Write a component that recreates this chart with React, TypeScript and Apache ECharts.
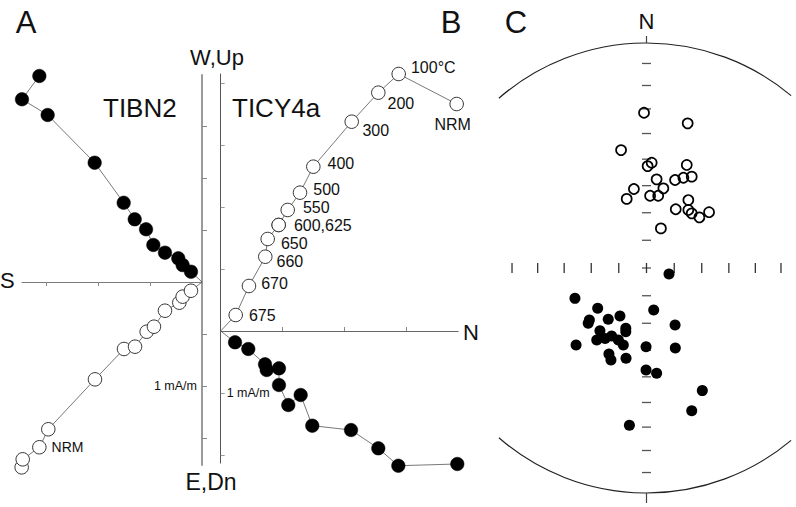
import React, { useEffect, useRef } from "react";
import * as echarts from "echarts";

// ---------- Panel A: TIBN2 orthogonal projection (mA/m) ----------
const aFilled: [number, number][] = [
  [-1.564, 1.981], [-1.731, 1.757], [-1.484, 1.606], [-1.032, 1.147],
  [-0.753, 0.762], [-0.647, 0.603], [-0.538, 0.507], [-0.468, 0.356],
  [-0.356, 0.282], [-0.228, 0.228], [-0.186, 0.163], [-0.106, 0.099],
];
const aOpen: [number, number][] = [
  [-1.734, -1.782], [-1.724, -1.705], [-1.564, -1.589], [-1.478, -1.416],
  [-1.029, -0.936], [-0.75, -0.644], [-0.644, -0.622], [-0.532, -0.478],
  [-0.462, -0.43], [-0.356, -0.276], [-0.218, -0.199], [-0.186, -0.141],
  [-0.106, -0.084],
];
const aOpenLabels = ["", "", "NRM", "", "", "", "", "", "", "", "", "", ""];
const aXTicks = [-1.5, -1, -0.5];
const aYTicks = [-1.5, -1, -0.5, 0.5, 1, 1.5];

// ---------- Panel B: TICY4a ----------
const bSteps = ["NRM", "100°C", "200", "300", "400", "500", "550", "600,625", "", "650", "660", "670", "675"];
const bOpen: [number, number][] = [
  [3.806, 3.661], [2.871, 4.145], [2.542, 3.844], [2.113, 3.376], [1.494, 2.65],
  [1.279, 2.231], [1.081, 1.952], [0.935, 1.71], [0.935, 1.71], [0.758, 1.484],
  [0.719, 1.198], [0.456, 0.726], [0.242, 0.258],
];
const bFilled: [number, number][] = [
  [3.816, -2.145], [2.865, -2.173], [2.542, -1.892], [2.102, -1.597], [1.477, -1.527],
  [1.29, -1.032], [1.09, -1.194], [0.94, -0.871], [0.94, -0.602], [0.742, -0.629],
  [0.715, -0.537], [0.445, -0.29], [0.231, -0.182],
];
const bXTicks = [1, 2, 3];
const bYTicks = [-2, -1, 1, 2, 3, 4];

// ---------- Panel C: equal-area net (projected, unit radius) ----------
const cUpper: [number, number][] = [
  [-0.011, 0.69], [0.183, 0.643], [-0.113, 0.524], [0.023, 0.468], [0.005, 0.453],
  [0.179, 0.458], [0.045, 0.394], [0.127, 0.391], [0.164, 0.401], [0.201, 0.406],
  [-0.056, 0.351], [0.075, 0.354], [-0.088, 0.307], [0.016, 0.321], [0.052, 0.321],
  [0.186, 0.302], [0.13, 0.261], [0.186, 0.258], [0.201, 0.243], [0.235, 0.225],
  [0.278, 0.248], [0.064, 0.176],
];
const cLower: [number, number][] = [
  [0.1, -0.027], [-0.318, -0.135], [-0.217, -0.179], [0.032, -0.187], [-0.118, -0.213],
  [-0.17, -0.228], [-0.254, -0.231], [-0.259, -0.246], [0.127, -0.253], [-0.092, -0.268],
  [-0.092, -0.283], [-0.207, -0.279], [-0.221, -0.32], [-0.155, -0.302], [-0.184, -0.313],
  [-0.125, -0.32], [-0.103, -0.342], [-0.313, -0.342], [-0.002, -0.35], [0.128, -0.356],
  [-0.167, -0.382], [-0.158, -0.409], [-0.091, -0.401], [-0.002, -0.453], [0.045, -0.468],
  [0.248, -0.545], [0.201, -0.634], [-0.076, -0.699],
];
const netVertIncl = [80, 70, 60, 50, 40, 30, 20, 10];
const netHorizIncl = [80, 70, 60, 50, 40];

// ---------- layout ----------
const FONT = "'Liberation Sans', Arial, Helvetica, sans-serif";
const A = { ox: 202, oy: 282, s: 104, xMin: -1.73, xMax: 0, yMin: -1.76, yMax: 1.99 };
const B = { ox: 220.7, oy: 331, s: 62, xMin: 0, xMax: 3.83, yMin: -2.13, yMax: 4.145 };
const C = { ox: 646.5, oy: 268, s: 225, xMin: -0.66, xMax: 0.64, yMin: -1, yMax: 1 };

const bLabelLayout: { pos: string; off: [number, number] }[] = [
  { pos: "bottom", off: [-4, 0] },
  { pos: "right", off: [0, -7] },
  { pos: "right", off: [-3, 11] },
  { pos: "right", off: [-1.5, 9] },
  { pos: "right", off: [2, -3] },
  { pos: "right", off: [1, -3] },
  { pos: "right", off: [3, -2] },
  { pos: "right", off: [3, 1] },
  { pos: "right", off: [0, 0] },
  { pos: "right", off: [1, 5] },
  { pos: "right", off: [-1, 5] },
  { pos: "right", off: [0, -2] },
  { pos: "right", off: [1, 0] },
];

function gridOf(p: typeof A) {
  return {
    left: p.ox + p.xMin * p.s,
    top: p.oy - p.yMax * p.s,
    width: (p.xMax - p.xMin) * p.s,
    height: (p.yMax - p.yMin) * p.s,
    outerBoundsMode: "none",
    containLabel: false,
  };
}

function eqArea(incl: number) {
  return Math.SQRT2 * Math.sin(((90 - incl) / 2) * (Math.PI / 180));
}

function txt(text: string, x: number, y: number, size: number, align = "center") {
  return {
    type: "text",
    x,
    y,
    silent: true,
    style: { text, fontSize: size, fontFamily: FONT, fill: "#111", align, verticalAlign: "middle" },
  };
}

export default function App() {
  const ref = useRef<HTMLDivElement>(null);
  useEffect(() => {
    if (!ref.current) return;
    const chart = echarts.init(ref.current, undefined, { renderer: "svg" });
    const deg = Math.PI / 180;

    const originPt = { value: [0, 0], symbol: "none" };
    const lineStyle = { color: "#555", width: 0.8 };

    const vTicks: any[] = [];
    netVertIncl.forEach((i) => {
      vTicks.push([0, eqArea(i)]);
      vTicks.push([0, -eqArea(i)]);
    });
    vTicks.push([0, 0]);
    const hTicks: any[] = [];
    netHorizIncl.forEach((i) => {
      hTicks.push([eqArea(i), 0]);
      hTicks.push([-eqArea(i), 0]);
    });
    hTicks.push([0, 0]);

    const option: any = {
      animation: false,
      backgroundColor: "#fff",
      grid: [gridOf(A), gridOf(B), gridOf(C)],
      xAxis: [
        {
          gridIndex: 0, type: "value", min: A.xMin, max: A.xMax, position: "bottom",
          axisLine: { onZero: true, lineStyle: { color: "#7a7a7a", width: 1 } },
          axisTick: { show: true, customValues: aXTicks, length: 4, lineStyle: { color: "#888" } },
          axisLabel: { show: false }, splitLine: { show: false },
        },
        {
          gridIndex: 1, type: "value", min: B.xMin, max: B.xMax, position: "bottom",
          axisLine: { onZero: true, lineStyle: { color: "#666", width: 1 } },
          axisTick: { show: true, inside: true, customValues: bXTicks, length: 4, lineStyle: { color: "#888" } },
          axisLabel: { show: false }, splitLine: { show: false },
        },
        { gridIndex: 2, type: "value", min: C.xMin, max: C.xMax, show: false },
      ],
      yAxis: [
        {
          gridIndex: 0, type: "value", min: A.yMin, max: A.yMax, position: "right",
          axisLine: { show: true, onZero: false, lineStyle: { color: "#9a9a9a", width: 2 } },
          axisTick: { show: true, customValues: aYTicks, length: 5, lineStyle: { color: "#888" } },
          axisLabel: {
            show: true, inside: true, customValues: [-1], formatter: () => "1 mA/m",
            fontSize: 12.5, fontFamily: FONT, color: "#111", margin: 5,
          },
          splitLine: { show: false },
        },
        {
          gridIndex: 1, type: "value", min: B.yMin, max: B.yMax, position: "left",
          axisLine: { show: true, onZero: false, lineStyle: { color: "#555", width: 1 } },
          axisTick: { show: true, inside: true, customValues: bYTicks, length: 4, lineStyle: { color: "#999" } },
          axisLabel: {
            show: true, inside: true, customValues: [-1], formatter: () => "1 mA/m",
            fontSize: 12.5, fontFamily: FONT, color: "#111", margin: 6,
          },
          splitLine: { show: false },
        },
        { gridIndex: 2, type: "value", min: C.yMin, max: C.yMax, show: false },
      ],
      series: [
        {
          type: "line", xAxisIndex: 0, yAxisIndex: 0, clip: false, showAllSymbol: true,
          symbol: "circle", symbolSize: 13.5, lineStyle,
          itemStyle: { color: "#fff", borderColor: "#333", borderWidth: 1 },
          data: [
            ...aOpen.map((p, i) => ({
              value: p,
              label: aOpenLabels[i]
                ? { show: true, formatter: aOpenLabels[i], position: "right", fontSize: 14, fontFamily: FONT, color: "#111" }
                : { show: false },
            })),
            originPt,
          ],
        },
        {
          type: "line", xAxisIndex: 0, yAxisIndex: 0, clip: false, showAllSymbol: true,
          symbol: "circle", symbolSize: 13.5, lineStyle,
          itemStyle: { color: "#000", borderColor: "#000", borderWidth: 0.5 },
          data: [...aFilled.map((p) => ({ value: p })), originPt],
        },
        {
          type: "line", xAxisIndex: 1, yAxisIndex: 1, clip: false, showAllSymbol: true,
          symbol: "circle", symbolSize: 13.5, lineStyle,
          itemStyle: { color: "#fff", borderColor: "#333", borderWidth: 1 },
          data: [
            ...bOpen.map((p, i) => ({
              value: p,
              label: bSteps[i]
                ? {
                    show: true, formatter: bSteps[i], position: bLabelLayout[i].pos, offset: bLabelLayout[i].off,
                    fontSize: 16, fontFamily: FONT, color: "#111",
                  }
                : { show: false },
            })),
            originPt,
          ],
        },
        {
          type: "line", xAxisIndex: 1, yAxisIndex: 1, clip: false, showAllSymbol: true,
          symbol: "circle", symbolSize: 13.5, lineStyle,
          itemStyle: { color: "#000", borderColor: "#000", borderWidth: 0.5 },
          data: [...bFilled.map((p) => ({ value: p })), originPt],
        },
        {
          type: "scatter", xAxisIndex: 2, yAxisIndex: 2, clip: false, silent: true,
          symbol: "rect", symbolSize: [9, 1.3],
          itemStyle: { color: "#555", opacity: 1 }, data: vTicks,
        },
        {
          type: "scatter", xAxisIndex: 2, yAxisIndex: 2, clip: false, silent: true,
          symbol: "rect", symbolSize: [1.3, 10],
          itemStyle: { color: "#333", opacity: 1 }, data: hTicks,
        },
        {
          type: "scatter", xAxisIndex: 2, yAxisIndex: 2, clip: false,
          symbol: "circle", symbolSize: 10,
          itemStyle: { color: "rgba(255,255,255,0)", borderColor: "#000", borderWidth: 1.7, opacity: 1 },
          data: cUpper,
        },
        {
          type: "scatter", xAxisIndex: 2, yAxisIndex: 2, clip: false,
          symbol: "circle", symbolSize: 11,
          itemStyle: { color: "#000", opacity: 1 },
          data: cLower,
        },
      ],
      graphic: [
        txt("A", 26, 22, 31),
        txt("B", 451, 22, 31),
        txt("C", 516, 22, 31),
        txt("W,Up", 217, 57, 22),
        txt("E,Dn", 211, 482, 23),
        txt("S", 0, 280, 22, "left"),
        txt("N", 463, 332, 22, "left"),
        txt("TIBN2", 103, 108, 26, "left"),
        txt("TICY4a", 232, 108, 26, "left"),
        txt("N", C.ox, 21, 22),
        {
          type: "arc", silent: true,
          shape: { cx: C.ox, cy: C.oy, r: C.s, startAngle: -131 * deg, endAngle: -50 * deg, clockwise: true },
          style: { stroke: "#222", lineWidth: 1.2, fill: "none" },
        },
        {
          type: "arc", silent: true,
          shape: { cx: C.ox, cy: C.oy, r: C.s, startAngle: 50 * deg, endAngle: 131 * deg, clockwise: true },
          style: { stroke: "#222", lineWidth: 1.2, fill: "none" },
        },
        {
          type: "line", silent: true,
          shape: { x1: C.ox, y1: C.oy - C.s - 7, x2: C.ox, y2: C.oy - C.s },
          style: { stroke: "#444", lineWidth: 1.2 },
        },
        {
          type: "line", silent: true,
          shape: { x1: C.ox, y1: C.oy + C.s, x2: C.ox, y2: C.oy + C.s + 10 },
          style: { stroke: "#444", lineWidth: 1.2 },
        },
      ],
    };
    chart.setOption(option);
    return () => chart.dispose();
  }, []);

  return (
    <div
      ref={ref}
      style={{ position: "fixed", left: 0, top: 0, width: 796, height: 507, background: "#fff" }}
    />
  );
}
